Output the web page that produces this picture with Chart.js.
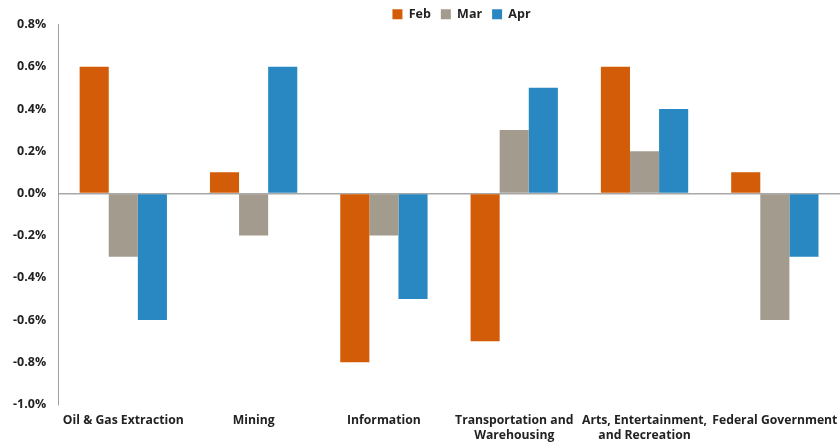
<!DOCTYPE html>
<html>
<head>
<meta charset="utf-8">
<script src="https://cdn.jsdelivr.net/npm/chart.js@4/dist/chart.umd.min.js"></script>
<style>
  html, body { margin: 0; padding: 0; background: #fff; }
  #wrap { width: 840px; height: 443px; }
</style>
</head>
<body>
<div id="wrap"><canvas id="chart"></canvas></div>
<script>
// values in percent
const categories = [
    "Oil & Gas Extraction",
    "Mining",
    "Information",
    ["Transportation and", "Warehousing"],
    ["Arts, Entertainment,", "and Recreation"],
    "Federal Government"
];
const febValues = [0.6, 0.1, -0.8, -0.7, 0.6, 0.1];
const marValues = [-0.3, -0.2, -0.2, 0.3, 0.2, -0.6];
const aprValues = [-0.6, 0.6, -0.5, 0.5, 0.4, -0.3];
const yTicks = [0.8, 0.6, 0.4, 0.2, 0.0, -0.2, -0.4, -0.6, -0.8, -1.0];

const fontFamily = "'Open Sans', 'DejaVu Sans', sans-serif";
const textColor = "#222";

function makeSet(label, data, color) {
    return {
        label: label,
        data: data,
        backgroundColor: color,
        borderWidth: 0,
        barPercentage: 1.0,
        categoryPercentage: 0.67
    };
}

// the legend sits right of the canvas centre and close above the plot in the original
const legendShift = {
    id: "legendShift",
    afterLayout(chart) {
        const lg = chart.legend;
        if (!lg) return;
        const dx = 41, dy = 6;
        lg.left += dx;
        lg.right += dx;
        lg.top += dy;
        lg.bottom += dy;
        lg.legendHitBoxes.forEach(b => { b.left += dx; b.top += dy; });
    }
};

new Chart(document.getElementById("chart"), {
    type: "bar",
    data: {
        labels: categories,
        datasets: [
            makeSet("Feb", febValues, "#D35C08"),
            makeSet("Mar", marValues, "#A39B8E"),
            makeSet("Apr", aprValues, "#2987C1")
        ]
    },
    options: {
        responsive: true,
        maintainAspectRatio: false,
        animation: false,
        layout: { padding: { left: 1, right: 0, top: -8, bottom: 0 } },
        plugins: {
            tooltip: { enabled: false },
            legend: {
                position: "top",
                labels: {
                    boxWidth: 10,
                    boxHeight: 10,
                    padding: 10,
                    color: textColor,
                    font: { family: fontFamily, size: 12.5, weight: "bold" }
                }
            }
        },
        scales: {
            x: {
                grid: { display: false },
                border: { display: false },
                ticks: {
                    color: textColor,
                    maxRotation: 0,
                    autoSkip: false,
                    padding: 0,
                    font: { family: fontFamily, size: 12.2, weight: "bold", lineHeight: 1.25 }
                }
            },
            y: {
                min: -1.0,
                max: 0.8,
                afterBuildTicks: function (axis) {
                    axis.ticks = yTicks.map(v => ({ value: v }));
                },
                border: { display: true, color: "#A0A0A0", width: 1 },
                grid: {
                    drawTicks: false,
                    color: ctx => (ctx.tick && Math.abs(ctx.tick.value) < 1e-9) ? "#A8A8A8" : "rgba(0,0,0,0)",
                    lineWidth: 1.5
                },
                ticks: {
                    color: textColor,
                    padding: 12,
                    font: { family: fontFamily, size: 12.5, weight: "bold" },
                    callback: v => v.toFixed(1) + "%"
                }
            }
        }
    },
    plugins: [legendShift]
});
</script>
</body>
</html>
